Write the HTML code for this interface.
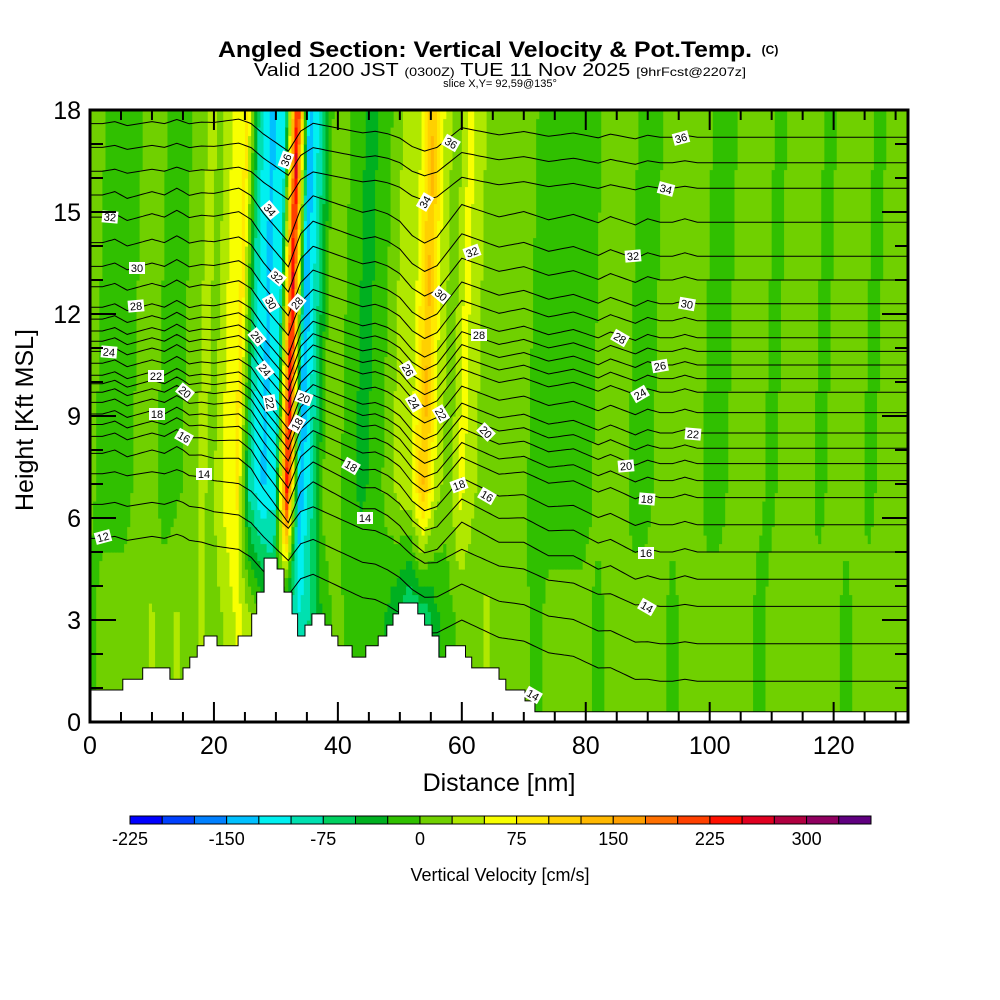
<!DOCTYPE html>
<html><head><meta charset="utf-8">
<style>
html,body{margin:0;padding:0;background:#fff;}
svg{display:block;font-family:"Liberation Sans",sans-serif;}
</style></head>
<body>
<svg id="chart" width="1000" height="1000" viewBox="0 0 1000 1000" xmlns="http://www.w3.org/2000/svg">
  <defs><clipPath id="plotclip"><rect x="90" y="110" width="818" height="612"/></clipPath></defs>
  <g>
    <text x="485" y="57" text-anchor="middle" font-size="22" font-weight="bold" textLength="534" lengthAdjust="spacingAndGlyphs">Angled Section: Vertical Velocity &amp; Pot.Temp.</text>
    <text x="770" y="54" text-anchor="middle" font-size="12" font-weight="bold">(C)</text>
    <text x="500" y="76" text-anchor="middle" font-size="18" textLength="492" lengthAdjust="spacingAndGlyphs">Valid 1200 JST <tspan font-size="12">(0300Z)</tspan> TUE 11 Nov 2025 <tspan font-size="12">[9hrFcst@2207z]</tspan></text>
    <text x="500" y="87" text-anchor="middle" font-size="11">slice X,Y= 92,59@135°</text>
  </g>
  <g id="field" clip-path="url(#plotclip)"></g>
  <g id="contours" clip-path="url(#plotclip)"></g>
  <g id="terrain"></g>
  <g id="clabels"></g>
  <g id="axes"></g>
  <text x="499" y="791" text-anchor="middle" font-size="25">Distance [nm]</text>
  <text x="0" y="0" transform="translate(33,420) rotate(-90)" text-anchor="middle" font-size="25">Height [Kft MSL]</text>
  <g id="colorbar"></g>
  <text x="500" y="881" text-anchor="middle" font-size="18">Vertical Velocity [cm/s]</text>
</svg>
<script>
// ---- data ----
const wUpper = [10,-10,-10,-10,10,10,-10,-10,10,30, 20,60,80,-90,-130,-110,260,-150,-80,10, 10,-20,-30,-20,10,40,50,130,40,10, 60,30,10,20,10,10,-15,-15,-15,-15, -15,10,10,10,-10,-10,10,10,10,10, -10,-10,10,10,10,-10,10,10,10,-10, 10,10,10,-10,10,10,10];
const wLower = [-10,10,10,10,10,30,10,30,10,30, 10,30,60,30,-10,-60,-80,-100,-60,-10, 10,-10,-10,-10,-30,-60,-90,-70,-30,-10, 10,10,30,10,10,10,-10,10,10,10, 10,-10,10,10,10,10,10,-10,10,10, 10,10,10,10,-10,10,10,10,10,10, 10,-10,10,10,10,10,10];
const thetaLevels = [12,13,14,15,16,17,18,19,20,21,22,23,24,25,26,27,28,29,30,31,32,33,34,35,36];
const thetaLeft  = [5.4,6.4,7.3,7.9,8.4,8.75,9.06,9.4,9.7,9.95,10.2,10.55,10.9,11.2,11.5,11.85,12.2,12.8,13.4,14.1,14.85,15.5,16.2,16.9,17.6];
const thetaRight = [1.2,2.3,3.4,4.2,5.0,5.8,6.6,7.1,7.6,8.05,8.5,9.1,9.7,10.1,10.5,10.9,11.3,11.8,12.3,13.0,13.7,14.7,15.7,16.45,17.2];
const thetaDisp  = [0,0,0.1,-0.1,0,0.1,0,0.2,0,0.1, 0.1,0.2,0.3,0.1,-0.4,-0.8,-1.2,-0.2,0.2,0.1, 0,-0.1,-0.2,-0.1,-0.2,-0.4,-0.8,-1.0,-0.8,-0.3, 0.2,0.1,0,-0.1,0,0.1,0,-0.1,0,0.1, 0,-0.1,0.1,0,-0.1,0.1,0,0,0.1,0, 0,0,0,0,0,0,0,0,0,0, 0,0,0,0,0,0,0];
const terrainNm  = [0,5.3,8.5,12.9,15.0,16.1,17.3,18.4,20.5,23.9,26.1,26.9,28.1,30.2,31.3,32.6,33.5,34.7,35.8,37.9,39.0,40.0,42.3,44.5,46.5,47.9,48.9,49.8,52.9,54.0,55.2,56.3,57.4,60.6,61.6,66.0,67.1,70.2,71.8];
const terrainKft = [0.94,1.26,1.59,1.26,1.59,1.91,2.24,2.53,2.24,2.53,3.18,3.82,4.82,4.5,3.82,3.18,2.53,2.85,3.18,2.85,2.53,2.24,1.91,2.24,2.53,2.85,3.18,3.5,3.18,2.85,2.53,1.91,2.24,1.91,1.59,1.26,0.94,0.62,0.3];
const xTicks = [0,20,40,60,80,100,120];
const yTicks = [0,3,6,9,12,15,18];
const cbColors = ['#0000ff','#0040ff','#0080ff','#00c0ff','#00f0f0','#00e0b0','#00d060','#00b020','#30c000','#70d000','#b0e800','#f8ff00','#ffe800','#ffd000','#ffb800','#ffa000','#ff7000','#ff4000','#ff1000','#e00020','#b00040','#900060','#600080'];
const cbLabels = [-225,-150,-75,0,75,150,225,300];
const cbMin = -225, cbStep = 25;

// ---- scales ----
const X0=90,X1=908,Y0=722,Y1=110,NMMAX=132,HMAX=18;
const sx = nm => X0 + nm*(X1-X0)/NMMAX;
const sy = h => Y0 - h*(Y0-Y1)/HMAX;
const NS='http://www.w3.org/2000/svg';
function mk(tag, attrs, parent){const e=document.createElementNS(NS,tag);for(const k in attrs)e.setAttribute(k,attrs[k]);parent.appendChild(e);return e;}
function interp(arr, nm){let p=nm/2;if(p<0)p=0;if(p>arr.length-1)p=arr.length-1;const i=Math.floor(p),f=p-i;const a=arr[i],b=arr[Math.min(i+1,arr.length-1)];return a+(b-a)*f;}
function wAt(nm,h){const s=nm-(h-8)*0.15;const U=interp(wUpper,s),L=interp(wLower,nm);let f=(h-3)/4;f=Math.max(0,Math.min(1,f));return L+(U-L)*f;}
function colorFor(w){let i=Math.floor((w-cbMin)/cbStep);i=Math.max(0,Math.min(cbColors.length-1,i));return cbColors[i];}

// ---- field ----
const field=document.getElementById('field');
const dn=0.5, dh=0.25;
for(let nm=0;nm<NMMAX;nm+=dn){
  let h=0;
  while(h<HMAX){
    const c=colorFor(wAt(nm+dn/2,h+dh/2));
    let h2=h+dh;
    while(h2<HMAX && colorFor(wAt(nm+dn/2,h2+dh/2))===c) h2+=dh;
    const r=mk('rect',{x:sx(nm).toFixed(2),y:sy(h2).toFixed(2),width:(sx(dn)-X0+0.6).toFixed(2),height:(sy(h)-sy(h2)+0.6).toFixed(2),fill:c},field);
    
    
    h=h2;
  }
}

// ---- contours ----
const cg=document.getElementById('contours');
thetaLevels.forEach((lv,i)=>{
  const amp = (lv<=14||lv>=34)?0.6:1.0;
  let d='';
  for(let nm=0;nm<=NMMAX;nm+=0.5){
    let t=(nm-15)/75;t=Math.max(0,Math.min(1,t));
    const h=thetaLeft[i]*(1-t)+thetaRight[i]*t+amp*interp(thetaDisp,nm);
    d+=(nm===0?'M':'L')+sx(nm).toFixed(1)+','+sy(h).toFixed(1);
  }
  const p=mk('path',{d:d,fill:'none',stroke:'#000','stroke-width':1},cg);
  
  
});

// ---- terrain ----
const tg=document.getElementById('terrain');
let td='M'+sx(0)+','+sy(0);
for(let i=0;i<terrainNm.length;i++){
  const nx = i+1<terrainNm.length?terrainNm[i+1]:NMMAX;
  td+='L'+sx(terrainNm[i]).toFixed(1)+','+sy(terrainKft[i]).toFixed(1)+'L'+sx(nx).toFixed(1)+','+sy(terrainKft[i]).toFixed(1);
}
td+='L'+sx(NMMAX)+','+sy(0)+'Z';
const tp=mk('path',{d:td,fill:'#fff',stroke:'#000','stroke-width':1},tg);



// ---- contour labels (annotation positions in px) ----
const labTxt=['36','34','32','30','28','26','24','22','20','18','36','34','32','30','28','26','24','22','20','18','16','14','18','36','34','32','30','28','26','24','22','20','18','16','14','14','32','30','28','24','22','20','18','16','14','12'];
const labPos=[[286,160,-70],[270,210,50],[277,277,40],[271,303,60],[297,303,-50],[257,337,50],[265,370,50],[270,403,80],[304,398,20],[297,424,-60],[451,143,30],[425,202,-60],[472,252,-20],[441,295,40],[479,335,0],[408,370,60],[414,403,60],[441,414,60],[486,432,45],[459,485,-20],[487,496,30],[365,518,0],[351,466,30],[681,138,-15],[666,189,15],[633,256,-5],[687,304,10],[620,338,30],[660,366,-10],[640,394,-30],[693,434,5],[626,466,-5],[647,499,5],[646,553,0],[647,607,30],[533,695,30],[110,217,5],[137,268,0],[136,306,-5],[109,352,5],[156,376,0],[185,392,40],[157,414,0],[184,437,30],[204,474,0],[103,537,-15]];
const lg=document.getElementById('clabels');
labTxt.forEach((t,i)=>{
  const [x,y,a]=labPos[i];
  const g=mk('g',{transform:`translate(${x},${y}) rotate(${a})`},lg);
  
  
  mk('rect',{x:-8,y:-6,width:16,height:12,fill:'#fff'},g);
  const tx=mk('text',{x:0,y:4,'text-anchor':'middle','font-size':11},g);
  tx.textContent=t;
});

// ---- axes ----
const ag=document.getElementById('axes');
for(let nm=0;nm<=130;nm+=5){
  const major=nm%20===0, L=major?20:10, x=sx(nm);
  mk('line',{x1:x,y1:Y0,x2:x,y2:Y0-L,stroke:'#000','stroke-width':2},ag);
  mk('line',{x1:x,y1:Y1,x2:x,y2:Y1+L,stroke:'#000','stroke-width':2},ag);
}
for(let h=0;h<=18;h+=1){
  const major=h%3===0, L=major?26:13, y=sy(h);
  mk('line',{x1:X0,y1:y,x2:X0+L,y2:y,stroke:'#000','stroke-width':2},ag);
  mk('line',{x1:X1,y1:y,x2:X1-L,y2:y,stroke:'#000','stroke-width':2},ag);
}
const fr=mk('rect',{x:X0,y:Y1,width:X1-X0,height:Y0-Y1,fill:'none',stroke:'#000','stroke-width':3},ag);


xTicks.forEach(v=>{
  const t=mk('text',{x:sx(v),y:754,'text-anchor':'middle','font-size':25},ag);
  
  
  t.textContent=v;
});
yTicks.forEach(v=>{
  const t=mk('text',{x:81,y:sy(v)+9,'text-anchor':'end','font-size':25},ag);
  
  
  t.textContent=v;
});

// ---- colorbar ----
const cb=document.getElementById('colorbar');
const CBX=130, CBW=741/cbColors.length, CBY=816, CBH=8;
cbColors.forEach((c,i)=>{
  const r=mk('rect',{x:(CBX+i*CBW).toFixed(2),y:CBY,width:CBW.toFixed(2),height:CBH,fill:c,stroke:'#000','stroke-width':1},cb);
  
  
});
cbLabels.forEach(v=>{
  const t=mk('text',{x:(CBX+(v-cbMin)/cbStep*CBW).toFixed(1),y:845,'text-anchor':'middle','font-size':18},cb);
  
  
  t.textContent=v;
});
</script>
</body></html>
